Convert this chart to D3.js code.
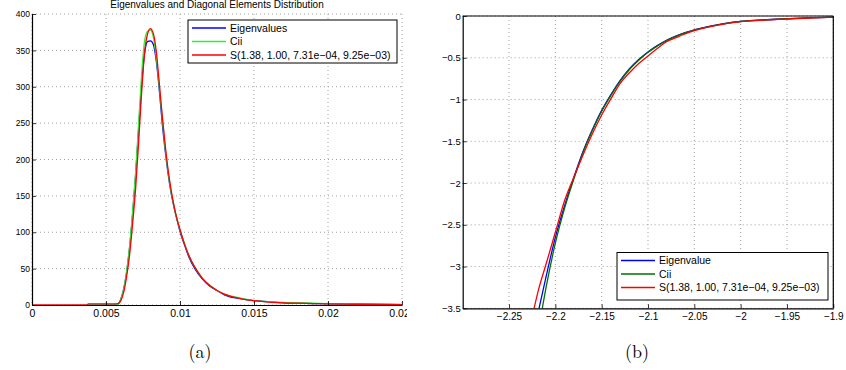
<!DOCTYPE html>
<html>
<head>
<meta charset="utf-8">
<script src="https://cdn.jsdelivr.net/npm/d3@7"></script>
<style>
  body { margin: 0; background: #fff; }
  svg { display: block; font-family: "Liberation Sans", Arial, sans-serif; }
  .grid line { stroke: #8a8a8a; stroke-width: 0.8; stroke-dasharray: 1,3; }
  .tick-lbl { fill: #000; }
</style>
</head>
<body>
<svg id="chart" width="846" height="370"></svg>
<script>
// ---- panel (a): distribution ----
const distX = [0, 0.0037, 0.0038, 0.0055, 0.0058, 0.0060, 0.0062, 0.0064, 0.0066, 0.0068,
  0.0070, 0.0072, 0.0074, 0.0076, 0.0078, 0.0080, 0.0082, 0.0084, 0.0086, 0.0088,
  0.0090, 0.0092, 0.0094, 0.0096, 0.0098, 0.0100, 0.0103, 0.0106, 0.0110, 0.0115,
  0.0120, 0.0125, 0.0130, 0.0140, 0.0150, 0.0160, 0.0170, 0.0180, 0.0190, 0.0200,
  0.0220, 0.0250];
const distEig = [null, null, 0, 0, 0.5, 8, 22, 46, 80, 125,
  178, 240, 300, 345, 362, 363, 358, 335, 296, 250,
  212, 180, 154, 134, 117, 101, 83, 66, 50, 36,
  26, 20, 14, 9, 6, 4.5, 3, 2.5, 2, 1.5,
  1, 0.5];
const distCii = [null, null, 0, 0, 0.5, 8, 22, 47, 82, 128,
  182, 248, 315, 362, 376, 378, 368, 340, 300, 257,
  216, 182, 155, 135, 118, 103, 85, 68, 52, 37,
  27, 20, 15, 10, 6, 4.5, 3.5, 3, 2.5, 2,
  1.5, 0.8];
const distFit = [0, 0, 1.5, 1.5, 2, 6, 18, 40, 70, 112,
  160, 222, 290, 345, 372, 380, 373, 348, 305, 260,
  220, 185, 158, 136, 118, 104, 84, 68, 52, 37,
  27, 20, 15, 9, 6, 4, 3, 2.5, 2, 1.5,
  1, 0.5];
const distXTicks = [0, 0.005, 0.01, 0.015, 0.02, 0.025];
const distXLabels = ["0", "0.005", "0.01", "0.015", "0.02", "0.025"];
const distYTicks = [0, 50, 100, 150, 200, 250, 300, 350, 400];
const distNames = ["Eigenvalues", "Cii", "S(1.38, 1.00, 7.31e\u221204, 9.25e\u221203)"];

// ---- panel (b): log tail ----
const tailX = [-2.224, -2.218, -2.21, -2.2, -2.19, -2.18, -2.17, -2.16, -2.15, -2.14,
  -2.13, -2.12, -2.11, -2.1, -2.09, -2.08, -2.07, -2.06, -2.05, -2.04,
  -2.03, -2.02, -2.0, -1.98, -1.96, -1.94, -1.92, -1.9];
const tailEig = [null, -3.52, -3.12, -2.65, -2.27, -1.93, -1.62, -1.36, -1.13, -0.94,
  -0.77, -0.63, -0.52, -0.43, -0.355, -0.29, -0.24, -0.2, -0.165, -0.14,
  -0.115, -0.095, -0.065, -0.05, -0.038, -0.028, -0.02, -0.014];
const tailCii = [null, -3.75, -3.25, -2.72, -2.3, -1.95, -1.63, -1.37, -1.14, -0.95,
  -0.78, -0.64, -0.53, -0.435, -0.36, -0.295, -0.245, -0.203, -0.168, -0.142,
  -0.117, -0.097, -0.066, -0.05, -0.038, -0.028, -0.02, -0.014];
const tailFit = [-3.55, -3.27, -2.97, -2.59, -2.21, -1.93, -1.66, -1.41, -1.185, -0.99,
  -0.806, -0.68, -0.57, -0.478, -0.39, -0.307, -0.26, -0.215, -0.175, -0.145,
  -0.12, -0.1, -0.068, -0.052, -0.041, -0.032, -0.022, -0.016];
const tailXTicks = [-2.25, -2.2, -2.15, -2.1, -2.05, -2, -1.95, -1.9];
const tailYTicks = [0, -0.5, -1, -1.5, -2, -2.5, -3, -3.5];
const tailNames = ["Eigenvalue", "Cii", "S(1.38, 1.00, 7.31e\u221204, 9.25e\u221203)"];

const svg = d3.select("#chart");
const minus = s => String(s).replace("-", "\u2212");

function drawPanel(opt) {
    const g = svg.append("g");
    const x = d3.scaleLinear().domain(opt.xDomain).range([opt.left, opt.right]);
    const y = d3.scaleLinear().domain(opt.yDomain).range([opt.bottom, opt.top]);

    g.append("clipPath").attr("id", opt.id + "-clip")
        .append("rect")
        .attr("x", opt.left).attr("y", opt.top)
        .attr("width", opt.right - opt.left).attr("height", opt.bottom - opt.top);

    // grid
    const grid = g.append("g").attr("class", "grid");
    grid.selectAll(".gx").data(opt.xTicks).enter().append("line")
        .attr("x1", d => x(d)).attr("x2", d => x(d))
        .attr("y1", opt.top).attr("y2", opt.bottom);
    grid.selectAll(".gy").data(opt.yTicks).enter().append("line")
        .attr("x1", opt.left).attr("x2", opt.right)
        .attr("y1", d => y(d)).attr("y2", d => y(d));

    // curves
    const line = d3.line()
        .defined(d => d[1] !== null)
        .curve(d3.curveMonotoneX)
        .x(d => x(d[0])).y(d => y(d[1]));
    const curves = g.append("g").attr("clip-path", "url(#" + opt.id + "-clip)");
    opt.series.forEach(s => {
        curves.append("path")
            .datum(opt.xs.map((v, i) => [v, s.values[i]]))
            .attr("fill", "none")
            .attr("stroke", s.color)
            .attr("stroke-width", 1.3)
            .attr("stroke-linejoin", "round")
            .attr("d", line);
    });

    // axes (ticks inward)
    const xAxis = d3.axisBottom(x).tickValues(opt.xTicks).tickSizeInner(-4).tickSizeOuter(0)
        .tickFormat((d, i) => opt.xLabels ? opt.xLabels[i] : minus(d));
    const yAxis = d3.axisLeft(y).tickValues(opt.yTicks).tickSizeInner(-4).tickSizeOuter(0)
        .tickFormat(d => minus(d));
    const ax = g.append("g").attr("transform", "translate(0," + opt.bottom + ")").call(xAxis);
    const ay = g.append("g").attr("transform", "translate(" + opt.left + ",0)").call(yAxis);
    [ax, ay].forEach(a => {
        a.select(".domain").attr("stroke", "#000").attr("stroke-width", 1.2);
        a.selectAll(".tick line").attr("stroke", "#000").attr("stroke-width", 0.8);
        a.selectAll("text").attr("class", "tick-lbl").attr("font-family", null);
    });
    ax.selectAll("text").attr("y", 5).attr("dy", "0.71em").attr("font-size", opt.xFont);
    ay.selectAll("text").attr("x", -2).attr("font-size", opt.yFont);

    if (opt.box) {
        g.append("line").attr("x1", opt.left).attr("x2", opt.right)
            .attr("y1", opt.top).attr("y2", opt.top)
            .attr("stroke", "#000").attr("stroke-width", 1.2);
        g.append("line").attr("x1", opt.right).attr("x2", opt.right)
            .attr("y1", opt.top).attr("y2", opt.bottom)
            .attr("stroke", "#000").attr("stroke-width", 1.2);
    }

    // legend
    const lg = g.append("g");
    lg.append("rect")
        .attr("x", opt.legend.x).attr("y", opt.legend.y)
        .attr("width", opt.legend.w).attr("height", opt.legend.h)
        .attr("fill", "#fff").attr("stroke", "#000").attr("stroke-width", 1);
    opt.series.forEach((s, i) => {
        const ly = opt.legend.y + 8 + i * 13.5;
        lg.append("line")
            .attr("x1", opt.legend.x + 4).attr("x2", opt.legend.x + 38)
            .attr("y1", ly).attr("y2", ly)
            .attr("stroke", s.color).attr("stroke-width", 1.3);
        lg.append("text")
            .attr("x", opt.legend.x + 42).attr("y", ly)
            .attr("dy", "0.35em")
            .attr("font-size", "10.5px")
            .text(s.name);
    });

    // caption
    svg.append("text")
        .attr("x", opt.captionX).attr("y", 358)
        .attr("text-anchor", "middle")
        .attr("font-family", "'Latin Modern Roman', 'DejaVu Serif', 'Liberation Serif', serif")
        .attr("font-size", "18px")
        .text(opt.caption);
    return g;
}

// clip left panel like the source figure
svg.append("clipPath").attr("id", "leftcut")
    .append("rect").attr("x", 0).attr("y", 0).attr("width", 407).attr("height", 370);

const left = drawPanel({
    id: "a", left: 32, right: 402, top: 14, bottom: 305,
    xDomain: [0, 0.025], yDomain: [0, 400],
    xTicks: distXTicks, xLabels: distXLabels, yTicks: distYTicks,
    xFont: "10.5px", yFont: "8.5px",
    xs: distX,
    series: [
        { name: distNames[0], color: "#0000ff", values: distEig },
        { name: distNames[1], color: "#33ee33", values: distCii },
        { name: distNames[2], color: "#ff0000", values: distFit }
    ],
    box: false,
    legend: { x: 188, y: 20, w: 209, h: 43 },
    caption: "(a)", captionX: 200
});
left.attr("clip-path", "url(#leftcut)");
left.append("text")
    .attr("x", 217).attr("y", 8)
    .attr("text-anchor", "middle")
    .attr("font-size", "10px")
    .text("Eigenvalues and Diagonal Elements Distribution");

drawPanel({
    id: "b", left: 462.7, right: 833.3, top: 16, bottom: 308.3,
    xDomain: [-2.3, -1.9], yDomain: [-3.5, 0],
    xTicks: tailXTicks, yTicks: tailYTicks,
    xFont: "10px", yFont: "9.5px",
    xs: tailX,
    series: [
        { name: tailNames[0], color: "#0000ff", values: tailEig },
        { name: tailNames[1], color: "#007000", values: tailCii },
        { name: tailNames[2], color: "#ff0000", values: tailFit }
    ],
    box: true,
    legend: { x: 617, y: 252.5, w: 211, h: 47.5 },
    caption: "(b)", captionX: 637
});
</script>
</body>
</html>
